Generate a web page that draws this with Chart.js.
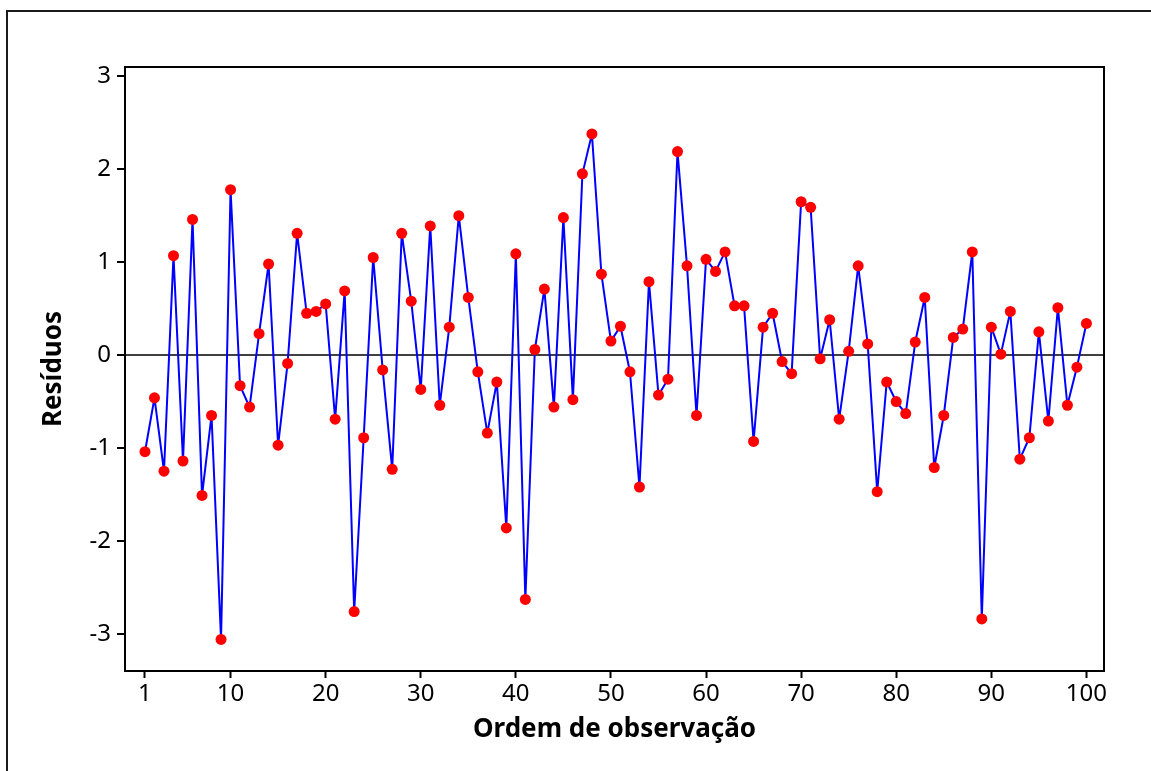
<!DOCTYPE html>
<html>
<head>
<meta charset="utf-8">
<title>Resíduos versus ordem de observação</title>
<script src="https://cdn.jsdelivr.net/npm/chart.js@4.4.1/dist/chart.umd.min.js"></script>
<style>
  html, body { margin: 0; padding: 0; background: #ffffff; }
  #wrap { width: 1151px; height: 771px; position: relative; }
</style>
</head>
<body>
<div id="wrap"><canvas id="grafico" width="1151" height="771"></canvas></div>
<script>
// Residuals in observation order (observations 1..100)
const residuos = [
  -1.04, -0.46, -1.25, 1.07, -1.14, 1.46, -1.51, -0.65, -3.06, 1.78,
  -0.33, -0.56, 0.23, 0.98, -0.97, -0.09, 1.31, 0.45, 0.47, 0.55,
  -0.69, 0.69, -2.76, -0.89, 1.05, -0.16, -1.23, 1.31, 0.58, -0.37,
  1.39, -0.54, 0.30, 1.50, 0.62, -0.18, -0.84, -0.29, -1.86, 1.09,
  -2.63, 0.06, 0.71, -0.56, 1.48, -0.48, 1.95, 2.38, 0.87, 0.15,
  0.31, -0.18, -1.42, 0.79, -0.43, -0.26, 2.19, 0.96, -0.65, 1.03,
  0.90, 1.11, 0.53, 0.53, -0.93, 0.30, 0.45, -0.07, -0.20, 1.65,
  1.59, -0.04, 0.38, -0.69, 0.04, 0.96, 0.12, -1.47, -0.29, -0.50,
  -0.63, 0.14, 0.62, -1.21, -0.65, 0.19, 0.28, 1.11, -2.84, 0.30,
  0.01, 0.47, -1.12, -0.89, 0.25, -0.71, 0.51, -0.54, -0.13, 0.34
];

// Observation order: position of each residual in the sequence
const ordem = residuos.map((_, i) => i + 1);

// Axis tick labels
const ticksX = [1, 10, 20, 30, 40, 50, 60, 70, 80, 90, 100];
const ticksY = [-3, -2, -1, 0, 1, 2, 3];

const pontos = ordem.map((o, i) => ({ x: o, y: residuos[i] }));

const fonteTexto = '"Noto Sans", "DejaVu Sans", sans-serif';

// Frame around the plot area and the outer panel edge
const molduras = {
  id: 'molduras',
  afterDraw(chart) {
    const { ctx, chartArea: a } = chart;
    ctx.save();
    ctx.strokeStyle = '#1a1a1a';
    ctx.lineWidth = 2;
    ctx.beginPath();
    ctx.moveTo(7, chart.height + 2);
    ctx.lineTo(7, 11);
    ctx.lineTo(chart.width + 2, 11);
    ctx.stroke();
    ctx.strokeStyle = '#000000';
    ctx.strokeRect(a.left, a.top, a.right - a.left, a.bottom - a.top);
    ctx.restore();
  }
};

new Chart(document.getElementById('grafico'), {
  type: 'line',
  data: {
    datasets: [{
      label: 'Resíduos',
      data: pontos,
      borderColor: '#0000ff',
      borderWidth: 2,
      borderJoinStyle: 'round',
      pointBackgroundColor: '#ff0000',
      pointBorderColor: '#ff0000',
      pointBorderWidth: 0,
      pointRadius: 5.5,
      tension: 0,
      fill: false
    }]
  },
  options: {
    responsive: false,
    animation: false,
    devicePixelRatio: 1,
    layout: { padding: { left: 0, top: 67, right: 47, bottom: 0 } },
    plugins: {
      legend: { display: false },
      tooltip: { enabled: false }
    },
    scales: {
      x: {
        type: 'linear',
        min: -1.1,
        max: 101.85,
        afterBuildTicks: s => { s.ticks = ticksX.map(v => ({ value: v })); },
        afterFit: s => { s.height = 100; },
        border: { display: false },
        grid: {
          drawOnChartArea: false,
          drawTicks: true,
          tickLength: 7,
          tickWidth: 2,
          tickColor: '#000000'
        },
        ticks: {
          color: '#000000',
          padding: 2,
          maxRotation: 0,
          autoSkip: false,
          font: { family: fonteTexto, size: 24 }
        },
        title: {
          display: true,
          text: 'Ordem de observação',
          color: '#000000',
          font: { family: fonteTexto, size: 26, weight: 'bold' },
          padding: { top: 0, bottom: 26 }
        }
      },
      y: {
        type: 'linear',
        min: -3.4,
        max: 3.1,
        afterBuildTicks: s => { s.ticks = ticksY.map(v => ({ value: v })); },
        afterFit: s => { s.width = 125; },
        border: { display: false },
        grid: {
          drawOnChartArea: true,
          drawTicks: true,
          tickLength: 8,
          tickWidth: 2,
          tickColor: '#000000',
          color: c => (c.tick && c.tick.value === 0 ? '#404040' : 'rgba(0,0,0,0)'),
          lineWidth: c => (c.tick && c.tick.value === 0 ? 2 : 0)
        },
        ticks: {
          color: '#000000',
          padding: 6,
          autoSkip: false,
          callback: v => String(v).replace('\u2212', '-'),
          font: { family: fonteTexto, size: 24 }
        },
        title: {
          display: true,
          text: 'Resíduos',
          color: '#000000',
          font: { family: fonteTexto, size: 26, weight: 'bold' },
          padding: { top: 38, bottom: 0 }
        }
      }
    }
  },
  plugins: [molduras]
});
</script>
</body>
</html>
